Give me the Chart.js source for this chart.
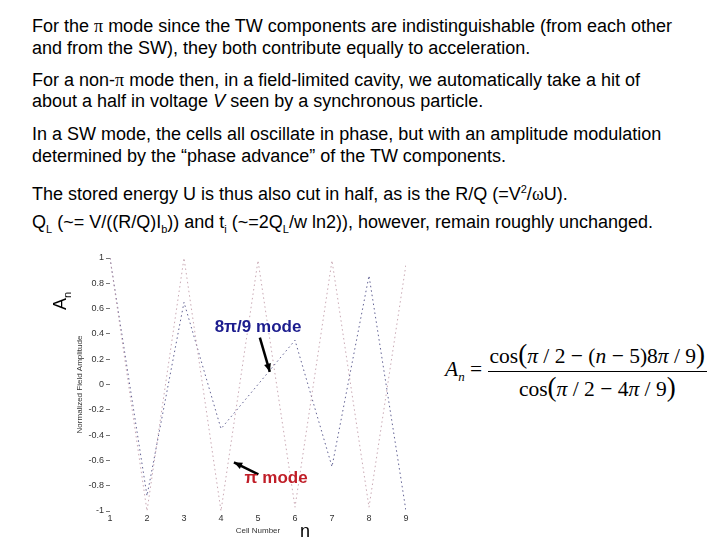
<!DOCTYPE html>
<html>
<head>
<meta charset="utf-8">
<script src="https://cdn.jsdelivr.net/npm/chart.js@4/dist/chart.umd.min.js"></script>
<style>
    body { margin: 0; background: #fff; width: 720px; height: 540px; position: relative; overflow: hidden;
           font-family: "Liberation Sans", Arial, sans-serif; }
    .ln { position: absolute; left: 32px; font-size: 18px; color: #000; white-space: nowrap; line-height: 20px; }
    .sym { font-family: "Liberation Serif", serif; }
    #box { position: absolute; left: 60px; top: 245px; width: 360px; height: 295px; }
    .big { position: absolute; font-size: 18px; color: #000; }
    #formula { position: absolute; left: 445px; top: 339px; font-family: "Liberation Serif", serif; font-size: 21.5px; }
    #formula .frac { display: inline-block; vertical-align: middle; text-align: center; }
    #formula .num { border-bottom: 1.5px solid #000; padding: 0 2px 1px 2px; }
    #formula .p { font-size: 27px; }
</style>
</head>
<body>
<div class="ln" style="top:16px">For the <span class="sym">π</span> mode since the TW components are indistinguishable (from each other</div>
<div class="ln" style="top:38px">and from the SW), they both contribute equally to acceleration.</div>
<div class="ln" style="top:70px">For a non-<span class="sym">π</span> mode then, in a field-limited cavity, we automatically take a hit of</div>
<div class="ln" style="top:91px">about a half in voltage <i>V</i> seen by a synchronous particle.</div>
<div class="ln" style="top:124px">In a SW mode, the cells all oscillate in phase, but with an amplitude modulation</div>
<div class="ln" style="top:146px">determined by the “phase advance” of the TW components.</div>
<div class="ln" style="top:179px">The stored energy U is thus also cut in half, as is the R/Q (=V<sup style="font-size:11px">2</sup>/<span class="sym">ω</span>U).</div>
<div class="ln" style="top:212px">Q<sub style="font-size:11px">L</sub> (~= V/((R/Q)I<sub style="font-size:11px">b</sub>)) and t<sub style="font-size:11px">i</sub> (~=2Q<sub style="font-size:11px">L</sub>/w ln2)), however, remain roughly unchanged.</div>

<div id="box"><canvas id="modeChart" width="360" height="295"></canvas></div>

<div class="big" style="left:50px;transform:rotate(-90deg);transform-origin:left top;top:310px;">A<sub style="font-size:11px">n</sub></div>
<div class="big" style="left:300px;top:521px;">n</div>

<div id="formula">
    <i>A<sub style="font-size:13px">n</sub></i> =
    <span class="frac">
        <div class="num">cos<span class="p">(</span><i>π</i> / 2 − (<i>n</i> − 5)8<i>π</i> / 9<span class="p">)</span></div>
        <div>cos<span class="p">(</span><i>π</i> / 2 − 4<i>π</i> / 9<span class="p">)</span></div>
    </span>
</div>

<script>
const cellNumbers = [1, 2, 3, 4, 5, 6, 7, 8, 9];
const piMode = [1, -1, 1, -1, 0.98, -0.97, 0.98, -0.97, 0.95];
const eightPiNinthMode = [1, -0.88, 0.65, -0.35, 0, 0.35, -0.65, 0.86, -1];

const toPoints = (ys) => ys.map((y, i) => ({ x: cellNumbers[i], y: y }));

// labels + arrows, placed in data coordinates
const notes = [
    { text: "8π/9 mode", color: "#1c1c8e", at: [5.0, 0.45], from: [5.05, 0.37], to: [5.32, 0.10] },
    { text: "π mode", color: "#c01e28", at: [5.49, -0.745], from: [5.01, -0.71], to: [4.35, -0.615] },
];

const notePlugin = {
    id: "notes",
    afterDraw(chart) {
        const ctx = chart.ctx;
        const xs = chart.scales.x;
        const ys = chart.scales.y;
        ctx.save();
        notes.forEach((n) => {
            const x1 = xs.getPixelForValue(n.from[0]), y1 = ys.getPixelForValue(n.from[1]);
            const x2 = xs.getPixelForValue(n.to[0]), y2 = ys.getPixelForValue(n.to[1]);
            ctx.strokeStyle = "#000";
            ctx.fillStyle = "#000";
            ctx.lineWidth = 2.5;
            ctx.beginPath();
            ctx.moveTo(x1, y1);
            ctx.lineTo(x2, y2);
            ctx.stroke();
            const ang = Math.atan2(y2 - y1, x2 - x1);
            ctx.beginPath();
            ctx.moveTo(x2, y2);
            ctx.lineTo(x2 - 9 * Math.cos(ang - 0.4), y2 - 9 * Math.sin(ang - 0.4));
            ctx.lineTo(x2 - 9 * Math.cos(ang + 0.4), y2 - 9 * Math.sin(ang + 0.4));
            ctx.closePath();
            ctx.fill();

            ctx.font = "bold 17px 'Liberation Sans', Arial, sans-serif";
            ctx.fillStyle = n.color;
            ctx.textAlign = "center";
            ctx.textBaseline = "middle";
            ctx.fillText(n.text, xs.getPixelForValue(n.at[0]), ys.getPixelForValue(n.at[1]));
        });
        ctx.restore();
    },
};

const ctx = document.getElementById("modeChart").getContext("2d");
const modeChart = new Chart(ctx, {
    type: "line",
    data: {
        datasets: [
            {
                label: "π mode",
                data: toPoints(piMode),
                borderColor: "rgba(195, 160, 172, 0.9)",
                borderWidth: 1,
                borderDash: [1.5, 3],
                pointRadius: 0,
                tension: 0,
            },
            {
                label: "8π/9 mode",
                data: toPoints(eightPiNinthMode),
                borderColor: "rgba(80, 80, 135, 0.9)",
                borderWidth: 1,
                borderDash: [1.5, 3],
                pointRadius: 0,
                tension: 0,
            },
        ],
    },
    options: {
        responsive: false,
        animation: false,
        layout: { padding: { top: 13, right: 14, bottom: 0, left: 0 } },
        plugins: { legend: { display: false }, tooltip: { enabled: false } },
        scales: {
            x: {
                type: "linear",
                min: 1,
                max: 9,
                afterFit: (s) => { s.height = 29; },
                ticks: { stepSize: 1, padding: 2, color: "#333", font: { size: 9, family: "'Liberation Sans', Arial" }, maxRotation: 0 },
                grid: { display: false, drawTicks: false },
                border: { display: false },
                title: { display: true, text: "Cell Number", color: "#333", padding: { top: 0, bottom: 4 }, font: { size: 8, family: "'Liberation Sans', Arial" } },
            },
            y: {
                min: -1,
                max: 1,
                afterFit: (s) => { s.width = 50; },
                ticks: {
                    stepSize: 0.2,
                    padding: 2,
                    color: "#333",
                    font: { size: 9, family: "'Liberation Sans', Arial" },
                    callback: (v) => Number(v.toFixed(1)).toString(),
                },
                grid: { drawOnChartArea: false, tickLength: 4, color: "#777" },
                border: { display: false },
                title: { display: true, text: "Normalized Field Amplitude", color: "#333", padding: { top: 15, bottom: 0 }, font: { size: 8, family: "'Liberation Sans', Arial" } },
            },
        },
    },
    plugins: [notePlugin],
});
</script>
</body>
</html>
